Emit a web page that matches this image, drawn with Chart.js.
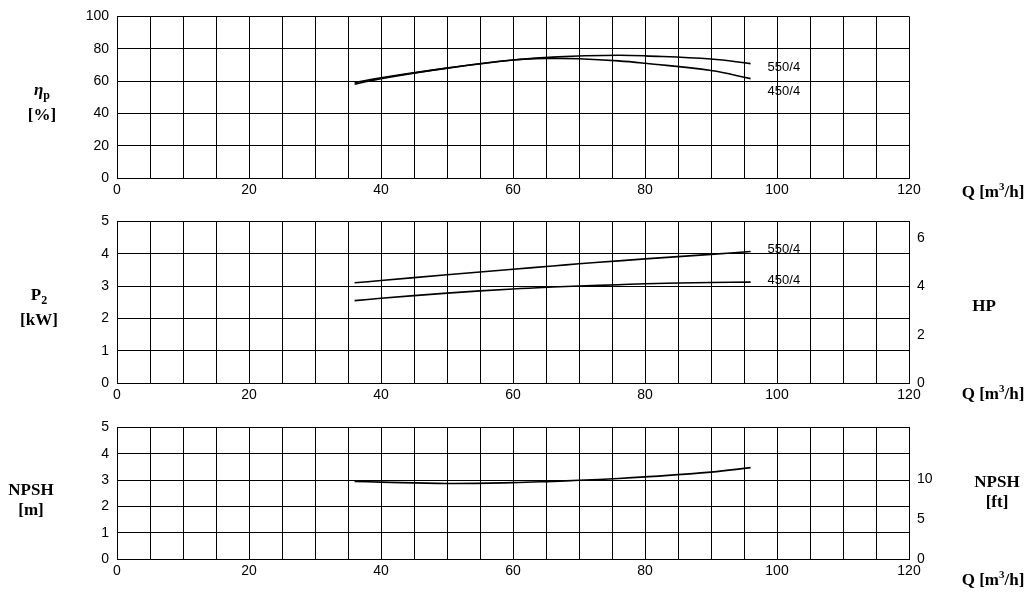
<!DOCTYPE html>
<html lang="en">
<head>
<meta charset="UTF-8">
<title>Pump curves</title>
<script src="https://cdn.jsdelivr.net/npm/chart.js"></script>
<style>
  body { margin: 0; background: #fff; }
  #wrap { position: relative; width: 1036px; height: 593px; }
  canvas { position: absolute; left: 0; }
  .t { position: absolute; font-family: "Liberation Serif", serif; font-weight: bold; font-size: 17px; text-align: center; line-height: 20px; color: #000; }
</style>
</head>
<body>
<div id="wrap">
  <canvas id="effChart" style="top:0"></canvas>
  <canvas id="powerChart" style="top:205px"></canvas>
  <canvas id="npshChart" style="top:411px"></canvas>

  <div class="t" style="left:22px;top:80px;width:40px"><i>η</i><sub style="font-size:12px">p</sub><br>[%]</div>
  <div class="t" style="left:14px;top:285px;width:50px">P<sub style="font-size:12px">2</sub><br>[kW]</div>
  <div class="t" style="left:0px;top:480px;width:62px">NPSH<br>[m]</div>
  <div class="t" style="left:962px;top:296px;width:44px">HP</div>
  <div class="t" style="left:962px;top:472px;width:70px">NPSH<br>[ft]</div>
  <div class="t" style="left:948px;top:176px;width:90px">Q [m<sup style="font-size:11px">3</sup>/h]</div>
  <div class="t" style="left:948px;top:378px;width:90px">Q [m<sup style="font-size:11px">3</sup>/h]</div>
  <div class="t" style="left:948px;top:564px;width:90px">Q [m<sup style="font-size:11px">3</sup>/h]</div>
</div>

<script>
// flow points (m3/h)
const flow = [36, 40, 50, 60, 66, 70, 76, 80, 90, 96];
const eff550 = [59, 62, 68, 73, 74.8, 75.5, 76, 75.6, 73.6, 70.8];
const eff450 = [58, 61.5, 68, 73, 74, 73.8, 72.5, 71, 66.5, 61.5];
const pow550 = [3.1, 3.17, 3.35, 3.52, 3.62, 3.69, 3.78, 3.84, 3.98, 4.07];
const pow450 = [2.55, 2.62, 2.78, 2.91, 2.97, 3.0, 3.04, 3.07, 3.11, 3.12];
const npshM = [2.95, 2.92, 2.87, 2.9, 2.95, 2.99, 3.06, 3.12, 3.3, 3.47];
const KW_TO_HP = 1.341;
const M_TO_FT = 3.281;

Chart.defaults.font.family = '"Liberation Sans", Arial, sans-serif';
Chart.defaults.font.size = 14;
Chart.defaults.color = '#000';

const pts = ys => flow.map((x, i) => ({ x: x, y: ys[i] }));

// writes the curve name just after its last point
const endLabels = {
  id: 'endLabels',
  afterDatasetsDraw(chart) {
    const ctx = chart.ctx;
    ctx.save();
    ctx.font = '13px "Liberation Sans", Arial, sans-serif';
    ctx.fillStyle = '#000';
    ctx.textBaseline = 'middle';
    chart.data.datasets.forEach((ds, i) => {
      if (!ds.tag) return;
      const last = chart.getDatasetMeta(i).data[ds.data.length - 1];
      ctx.fillText(ds.tag, last.x + 17, last.y + ds.tagDy);
    });
    ctx.restore();
  }
};

function line(data, tag, tagDy) {
  return { data: pts(data), tag: tag, tagDy: tagDy, borderColor: '#000', borderWidth: 1.6,
           pointRadius: 0, tension: 0.4, fill: false };
}

function makeChart(id, height, datasets, yMax, yStep, right) {
  const el = document.getElementById(id);
  el.width = 1036; el.height = height;
  el.style.width = '1036px'; el.style.height = height + 'px';
  const scales = {
    x: {
      type: 'linear', min: 0, max: 120,
      ticks: { stepSize: 5, autoSkip: false, maxRotation: 0, padding: 4,
               callback: v => v % 20 === 0 ? v : '' },
      grid: { color: '#000', lineWidth: 1, drawTicks: false },
      border: { color: '#000' },
      afterFit: s => { s.height = 32; }
    },
    y: {
      min: 0, max: yMax,
      ticks: { stepSize: yStep, padding: 8 },
      grid: { color: '#000', lineWidth: 1, drawTicks: false },
      border: { color: '#000' },
      afterFit: s => { s.width = 117; }
    }
  };
  if (right) {
    scales.y2 = {
      position: 'right', min: 0, max: right.max,
      ticks: { stepSize: right.step, padding: 8,
               callback: v => v % right.step === 0 ? v : '' },
      grid: { display: false, drawTicks: false },
      border: { color: '#000' },
      afterFit: s => { s.width = 127; }
    };
  }
  return new Chart(el, {
    type: 'line',
    data: { datasets: datasets },
    options: {
      responsive: false, animation: false,
      layout: { padding: { top: 14, right: right ? 0 : 127, left: 0, bottom: 0 } },
      plugins: { legend: { display: false }, tooltip: { enabled: false } },
      scales: scales
    },
    plugins: [endLabels]
  });
}

makeChart('effChart', 210,
  [line(eff550, '550/4', 4), line(eff450, '450/4', 13)], 100, 20, null);
makeChart('powerChart', 210,
  [line(pow550, '550/4', -2), line(pow450, '450/4', -2)], 5, 1,
  { max: 5 * KW_TO_HP, step: 2 });
makeChart('npshChart', 180,
  [line(npshM, null, 0)], 5, 1,
  { max: 5 * M_TO_FT, step: 5 });
</script>
</body>
</html>
